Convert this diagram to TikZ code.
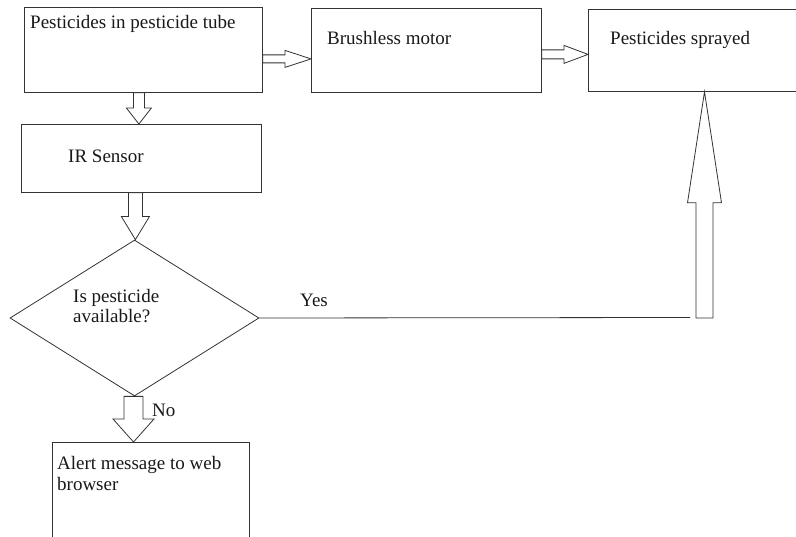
\documentclass[tikz,border=0pt]{standalone}
\usepackage{fontspec}
\setmainfont{Liberation Serif}
\usetikzlibrary{calc,shapes.geometric}

\tikzset{
  flowbox/.style={draw=black!80, line width=0.8pt, rectangle, inner sep=0pt, anchor=north west},
  decision/.style={draw=black!80, line width=0.8pt, diamond, inner sep=0pt},
  boxtext/.style={inner sep=0pt, anchor=base west, text=black!90,
                  font=\fontsize{19}{20.5}\selectfont, align=left},
  blockarrow/.style={draw=black!80, line width=0.8pt, fill=white, line join=miter},
  flowline/.style={draw=black!80, line width=0.8pt},
}

% Hollow block arrow pointing right: from #1 to the x of #2,
% shaft half width #3, head half width #4, head length #5
\newcommand\hblockarrow[5]{%
  \path[blockarrow] let \p1=(#1), \p2=(#2) in
    (\x1,{\y1+#3}) -- ({\x2-#5},{\y1+#3}) -- ({\x2-#5},{\y1+#4}) -- (\x2,\y1)
    -- ({\x2-#5},{\y1-#4}) -- ({\x2-#5},{\y1-#3}) -- (\x1,{\y1-#3}) -- cycle;}

% Hollow block arrow, vertical: from #1 to the y of #2 (up or down)
\newcommand\vblockarrow[5]{%
  \path[blockarrow] let \p1=(#1), \p2=(#2),
      \n1={(\y2-\y1)/abs(\y2-\y1)} in
    ({\x1-#3},\y1) -- ({\x1-#3},{\y2-(\n1)*(#5)}) -- ({\x1-#4},{\y2-(\n1)*(#5)})
    -- (\x1,\y2)
    -- ({\x1+#4},{\y2-(\n1)*(#5)}) -- ({\x1+#3},{\y2-(\n1)*(#5)})
    -- ({\x1+#3},\y1) -- cycle;}

\begin{document}
\begin{tikzpicture}[x=1pt,y=-1pt]
  \path[use as bounding box, clip] (0,0) rectangle (796,537);
  \fill[white] (0,0) rectangle (796,537);

  % boxes
  \node[flowbox, minimum width=238pt, minimum height=85pt] (tube)   at (24,7)   {};
  \node[flowbox, minimum width=230pt, minimum height=84pt] (motor)  at (311,8)  {};
  \node[flowbox, minimum width=240pt, minimum height=82pt] (spray)  at (588,9)  {};
  \node[flowbox, minimum width=240pt, minimum height=68pt] (ir)     at (21,124) {};
  \node[decision, minimum width=249pt, minimum height=156pt] (check) at (134.5,318) {};
  \node[flowbox, minimum width=197pt, minimum height=130pt] (alert) at (52,442) {};

  % texts (multi-line nodes sit on the baseline of their last line)
  \node[boxtext] (ttube)  at (30,29)   {Pesticides in pesticide tube};
  \node[boxtext] (tmotor) at (327,45)  {Brushless motor};
  \node[boxtext] (tspray) at (610,45)  {Pesticides sprayed};
  \node[boxtext] (tir)    at (68,163)  {IR Sensor};
  \node[boxtext] (tcheck) at (73,323)  {Is pesticide\\available?};
  \node[boxtext] (tyes)   at (300,307) {Yes};
  \node[boxtext] (tno)    at (152,417) {No};
  \node[boxtext] (talert) at (57,490)  {Alert message to web\\browser};

  % connectors
  \hblockarrow{$(tube.east)+(0,9)$}{motor.west}{4pt}{8.5pt}{26pt}
  \hblockarrow{$(motor.east)+(0,4)$}{spray.west}{4.5pt}{9pt}{24pt}
  \vblockarrow{$(tube.south)+(-4.5,0)$}{ir.north}{5.5pt}{12.5pt}{16pt}
  \vblockarrow{$(ir.south)+(-6,0)$}{check.north}{7pt}{14pt}{23pt}
  \vblockarrow{$(check.south)+(-1,0)$}{alert.north}{9.5pt}{20.5pt}{23pt}

  \coordinate (yesend) at (690,317.5);
  \coordinate (rise)   at (704.5,318);
  \draw[flowline] (check.east) -- (yesend);
  \vblockarrow{rise}{spray.south}{8.5pt}{17pt}{111pt}
\end{tikzpicture}
\end{document}
